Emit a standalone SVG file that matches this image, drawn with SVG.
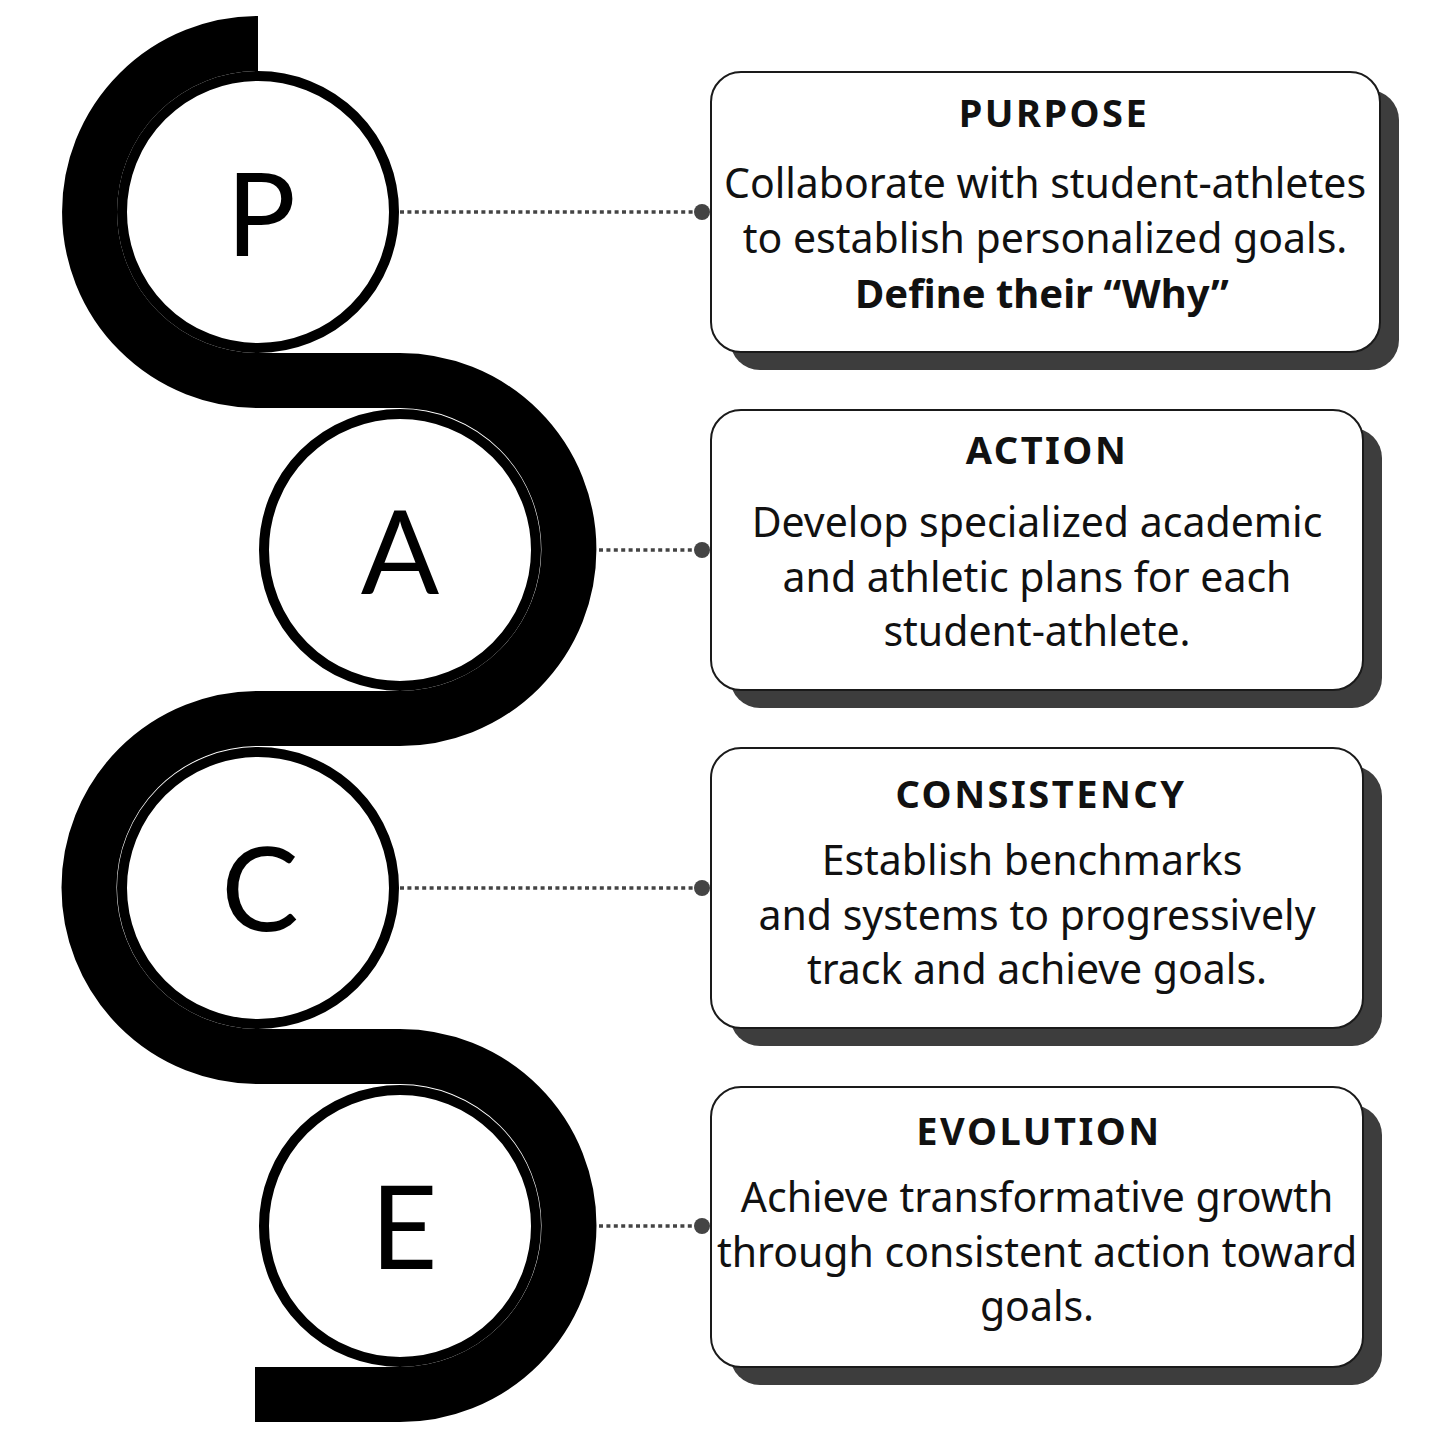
<svg xmlns="http://www.w3.org/2000/svg" width="1453" height="1453" viewBox="0 0 1453 1453">
<defs>
<style>
.band{fill:none;stroke:#000;stroke-width:55;stroke-linecap:butt}
.ring{fill:#fff;stroke:#000;stroke-width:10}
.letter{font-family:Lato,"Open Sans","Noto Sans",sans-serif;font-weight:400;font-size:116px;fill:#000;text-anchor:middle}
.shadow{fill:#3d3d3d}
.box{fill:#fff;stroke:#1a1a1a;stroke-width:2}
.title{font-family:"Noto Sans","Open Sans",sans-serif;font-weight:700;font-size:38px;letter-spacing:2.5px;fill:#111;text-anchor:middle}
.body{font-family:"Noto Sans","Open Sans",sans-serif;font-weight:400;font-size:41px;fill:#111;text-anchor:middle}
.bold{font-weight:700;font-size:40px}
.dots{stroke:#444;stroke-width:3.5;stroke-dasharray:4 3.4;fill:none}
.dot{fill:#444}
</style>
</defs>
<rect width="1453" height="1453" fill="#fff"/>
<path class="band" d="M258,43.5 A168.5,168.5 0 0 0 258,380.5 L400,380.5 A169,169 0 0 1 400,718.5 L258,718.5 A169,169 0 0 0 258,1056.5 L400,1056.5 A169,169 0 0 1 400,1394.5 L255,1394.5"/>
<g id="connectors">
<line class="dots" x1="400" y1="212" x2="700" y2="212"/>
<circle class="dot" cx="702" cy="212" r="8"/>
<line class="dots" x1="599" y1="550" x2="700" y2="550"/>
<circle class="dot" cx="702" cy="550" r="8"/>
<line class="dots" x1="400" y1="888" x2="700" y2="888"/>
<circle class="dot" cx="702" cy="888" r="8"/>
<line class="dots" x1="599" y1="1226" x2="700" y2="1226"/>
<circle class="dot" cx="702" cy="1226" r="8"/>
</g>
<g id="circle-p">
<circle class="ring" cx="258" cy="212" r="136"/>
<text class="letter" x="261" y="256">P</text>
</g>
<g id="circle-a">
<circle class="ring" cx="400" cy="550" r="136"/>
<text class="letter" x="400" y="594">A</text>
</g>
<g id="circle-c">
<circle class="ring" cx="258" cy="888" r="136"/>
<text class="letter" x="260" y="931">C</text>
</g>
<g id="circle-e">
<circle class="ring" cx="400" cy="1226" r="136"/>
<text class="letter" x="404" y="1269">E</text>
</g>
<g id="box-purpose">
<rect class="shadow" x="730" y="90" width="669" height="280" rx="30"/>
<rect class="box" x="711" y="72" width="669" height="280" rx="30"/>
<text class="title" x="1054" y="127">PURPOSE</text>
<text class="body" x="1045" y="198">Collaborate with student-athletes</text>
<text class="body" x="1045" y="253">to establish personalized goals.</text>
<text class="body bold" x="1042" y="308">Define their “Why”</text>
</g>
<g id="box-action">
<rect class="shadow" x="730" y="428" width="652" height="280" rx="30"/>
<rect class="box" x="711" y="410" width="652" height="280" rx="30"/>
<text class="title" x="1047" y="464">ACTION</text>
<text class="body" x="1037" y="537">Develop specialized academic</text>
<text class="body" x="1037" y="592">and athletic plans for each</text>
<text class="body" x="1037" y="646">student-athlete.</text>
</g>
<g id="box-consistency">
<rect class="shadow" x="730" y="766" width="652" height="280" rx="30"/>
<rect class="box" x="711" y="748" width="652" height="280" rx="30"/>
<text class="title" x="1041" y="808">CONSISTENCY</text>
<text class="body" x="1032" y="875">Establish benchmarks</text>
<text class="body" x="1037" y="930">and systems to progressively</text>
<text class="body" x="1037" y="984">track and achieve goals.</text>
</g>
<g id="box-evolution">
<rect class="shadow" x="730" y="1105" width="652" height="280" rx="30"/>
<rect class="box" x="711" y="1087" width="652" height="280" rx="30"/>
<text class="title" x="1039" y="1145">EVOLUTION</text>
<text class="body" x="1037" y="1212">Achieve transformative growth</text>
<text class="body" x="1037" y="1267">through consistent action toward</text>
<text class="body" x="1037" y="1321">goals.</text>
</g>
</svg>
